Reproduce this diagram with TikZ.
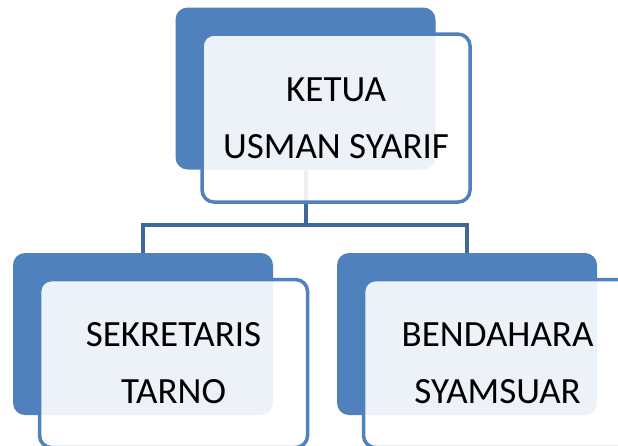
\documentclass[tikz,border=0pt]{standalone}
\usepackage{fontspec}
\setmainfont{Carlito}
\usetikzlibrary{positioning}
\definecolor{boxblue}{HTML}{4F81BD}
\definecolor{linkblue}{HTML}{3F6797}

\tikzset{
    back/.style={fill=boxblue, rounded corners=12pt, minimum width=260pt, minimum height=162pt, inner sep=0pt},
    front/.style={draw=boxblue, line width=3.5pt, fill=white, fill opacity=0.9, text opacity=1, rounded corners=12pt,
        minimum width=268pt, minimum height=168pt, inner sep=0pt, align=center, font=\fontsize{37}{57}\selectfont},
    link/.style={draw=linkblue, line width=4pt}
}

\begin{document}
\begin{tikzpicture}[x=1pt,y=-1pt]
        \useasboundingbox (0,0) rectangle (618,445);
        \clip (0,0) rectangle (618,445);

        \node[back] (ketuaback) at (305.5,88.5) {};
        \node[back] (sekback) at (143,334) {};
        \node[back] (benback) at (467,334) {};

        \coordinate (bar) at (305.5,225);
        \draw[link] (ketuaback.south) -- (bar);
        \draw[link] (sekback.north) |- (bar) -| (benback.north);

        \node[front, below right=25pt and 25pt of ketuaback.north west] (ketua) {KETUA\\USMAN SYARIF};
        \node[front, below right=25pt and 25pt of sekback.north west] (sek) {SEKRETARIS\\TARNO};
        \node[front, below right=25pt and 25pt of benback.north west] (ben) {BENDAHARA\\SYAMSUAR};
    \end{tikzpicture}
\end{document}
